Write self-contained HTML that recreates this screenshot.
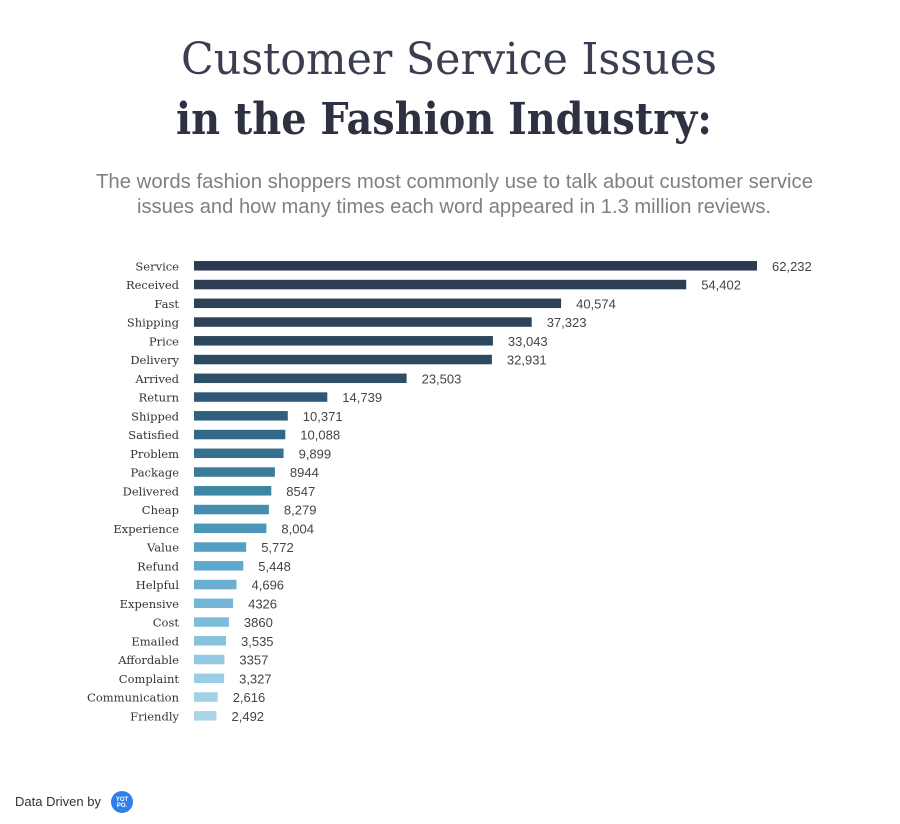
<!DOCTYPE html>
<html><head><meta charset="utf-8"><style>
html,body{margin:0;padding:0;background:#fff;}
svg{display:block;}
.t1{font-family:"DejaVu Serif","Liberation Serif",serif;font-weight:300;font-size:44px;fill:#3a3e50;}
.t2{font-family:"DejaVu Serif","Liberation Serif",serif;font-weight:bold;font-size:44px;fill:#2d3142;}
.sub{font-family:"Liberation Sans",sans-serif;font-size:20px;fill:#808080;}
.lb{font-family:"DejaVu Serif","Liberation Serif",serif;font-size:11.5px;fill:#333;}
.vl{font-family:"Liberation Sans",sans-serif;font-size:13px;fill:#444;}
.ft{font-family:"Liberation Sans",sans-serif;font-size:13px;fill:#333;}
</style></head><body>
<svg width="900" height="824" viewBox="0 0 900 824" xmlns="http://www.w3.org/2000/svg">
<rect width="900" height="824" fill="#fff"/>
<text class="t1" x="181" y="74" textLength="536" lengthAdjust="spacingAndGlyphs">Customer Service Issues</text>
<text class="t2" x="176" y="134" textLength="536" lengthAdjust="spacingAndGlyphs">in the Fashion Industry:</text>
<text class="sub" x="96" y="188" textLength="717" lengthAdjust="spacingAndGlyphs">The words fashion shoppers most commonly use to talk about customer service</text>
<text class="sub" x="137" y="213" textLength="634" lengthAdjust="spacingAndGlyphs">issues and how many times each word appeared in 1.3 million reviews.</text>

<g text-anchor="end">
<text class="lb" x="179" y="270.3">Service</text>
<text class="lb" x="179" y="289.05">Received</text>
<text class="lb" x="179" y="307.8">Fast</text>
<text class="lb" x="179" y="326.55">Shipping</text>
<text class="lb" x="179" y="345.3">Price</text>
<text class="lb" x="179" y="364.05">Delivery</text>
<text class="lb" x="179" y="382.8">Arrived</text>
<text class="lb" x="179" y="401.55">Return</text>
<text class="lb" x="179" y="420.3">Shipped</text>
<text class="lb" x="179" y="439.05">Satisfied</text>
<text class="lb" x="179" y="457.8">Problem</text>
<text class="lb" x="179" y="476.55">Package</text>
<text class="lb" x="179" y="495.3">Delivered</text>
<text class="lb" x="179" y="514.05">Cheap</text>
<text class="lb" x="179" y="532.8">Experience</text>
<text class="lb" x="179" y="551.55">Value</text>
<text class="lb" x="179" y="570.3">Refund</text>
<text class="lb" x="179" y="589.05">Helpful</text>
<text class="lb" x="179" y="607.8">Expensive</text>
<text class="lb" x="179" y="626.55">Cost</text>
<text class="lb" x="179" y="645.3">Emailed</text>
<text class="lb" x="179" y="664.05">Affordable</text>
<text class="lb" x="179" y="682.8">Complaint</text>
<text class="lb" x="179" y="701.55">Communication</text>
<text class="lb" x="179" y="720.3">Friendly</text>
</g>

<g>
<rect x="194" y="261.05" width="563.0" height="9.5" fill="#2c3b51"/>
<rect x="194" y="279.8" width="492.2" height="9.5" fill="#2c3d54"/>
<rect x="194" y="298.55" width="367.1" height="9.5" fill="#2c4056"/>
<rect x="194" y="317.3" width="337.7" height="9.5" fill="#2c4359"/>
<rect x="194" y="336.05" width="298.9" height="9.5" fill="#2c465c"/>
<rect x="194" y="354.8" width="297.9" height="9.5" fill="#2c4a60"/>
<rect x="194" y="373.55" width="212.6" height="9.5" fill="#2d4f67"/>
<rect x="194" y="392.3" width="133.3" height="9.5" fill="#2f5878"/>
<rect x="194" y="411.05" width="93.8" height="9.5" fill="#31607f"/>
<rect x="194" y="429.8" width="91.3" height="9.5" fill="#336887"/>
<rect x="194" y="448.55" width="89.6" height="9.5" fill="#36728f"/>
<rect x="194" y="467.3" width="80.9" height="9.5" fill="#3a7c98"/>
<rect x="194" y="486.05" width="77.3" height="9.5" fill="#3d85a3"/>
<rect x="194" y="504.8" width="74.9" height="9.5" fill="#448fb0"/>
<rect x="194" y="523.55" width="72.4" height="9.5" fill="#4a97ba"/>
<rect x="194" y="542.3" width="52.2" height="9.5" fill="#559fc4"/>
<rect x="194" y="561.05" width="49.3" height="9.5" fill="#5fa7cb"/>
<rect x="194" y="579.8" width="42.5" height="9.5" fill="#6aaed0"/>
<rect x="194" y="598.55" width="39.1" height="9.5" fill="#75b5d6"/>
<rect x="194" y="617.3" width="34.9" height="9.5" fill="#7fbcda"/>
<rect x="194" y="636.05" width="32.0" height="9.5" fill="#88c2de"/>
<rect x="194" y="654.8" width="30.4" height="9.5" fill="#92c8e2"/>
<rect x="194" y="673.55" width="30.1" height="9.5" fill="#9bcde5"/>
<rect x="194" y="692.3" width="23.7" height="9.5" fill="#a3d1e8"/>
<rect x="194" y="711.05" width="22.5" height="9.5" fill="#abd6ea"/>
</g>

<g>
<text class="vl" x="772.0" y="270.8">62,232</text>
<text class="vl" x="701.2" y="289.55">54,402</text>
<text class="vl" x="576.1" y="308.3">40,574</text>
<text class="vl" x="546.7" y="327.05">37,323</text>
<text class="vl" x="507.9" y="345.8">33,043</text>
<text class="vl" x="506.9" y="364.55">32,931</text>
<text class="vl" x="421.6" y="383.3">23,503</text>
<text class="vl" x="342.3" y="402.05">14,739</text>
<text class="vl" x="302.8" y="420.8">10,371</text>
<text class="vl" x="300.3" y="439.55">10,088</text>
<text class="vl" x="298.6" y="458.3">9,899</text>
<text class="vl" x="289.9" y="477.05">8944</text>
<text class="vl" x="286.3" y="495.8">8547</text>
<text class="vl" x="283.9" y="514.55">8,279</text>
<text class="vl" x="281.4" y="533.3">8,004</text>
<text class="vl" x="261.2" y="552.05">5,772</text>
<text class="vl" x="258.3" y="570.8">5,448</text>
<text class="vl" x="251.5" y="589.55">4,696</text>
<text class="vl" x="248.1" y="608.3">4326</text>
<text class="vl" x="243.9" y="627.05">3860</text>
<text class="vl" x="241.0" y="645.8">3,535</text>
<text class="vl" x="239.4" y="664.55">3357</text>
<text class="vl" x="239.1" y="683.3">3,327</text>
<text class="vl" x="232.7" y="702.05">2,616</text>
<text class="vl" x="231.5" y="720.8">2,492</text>
</g>

<text class="ft" x="15" y="806">Data Driven by</text>
<circle cx="122" cy="802" r="11" fill="#2f7fe8"/>
<text x="122" y="801" text-anchor="middle" font-family="Liberation Sans, sans-serif" font-size="6" font-weight="bold" fill="#fff">YOT</text>
<text x="122" y="807" text-anchor="middle" font-family="Liberation Sans, sans-serif" font-size="6" font-weight="bold" fill="#fff">PO.</text>
</svg>
</body></html>
